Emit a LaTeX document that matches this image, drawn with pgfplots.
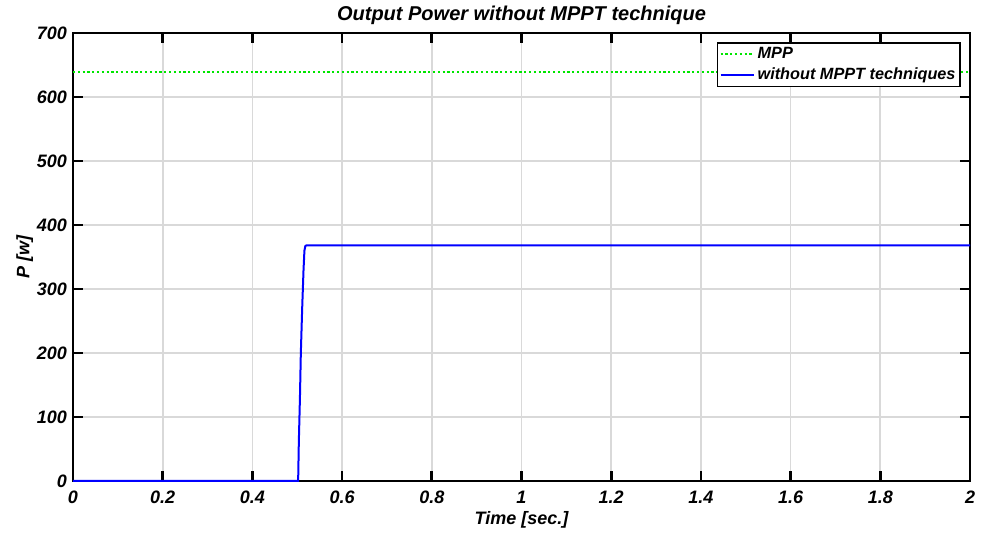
\documentclass[border=0pt]{standalone}
\usepackage{fontspec}
\setmainfont{Liberation Sans}
\usepackage{pgfplots}
\pgfplotsset{compat=1.18}
\begin{document}
\begin{tikzpicture}
\begin{axis}[
  scale only axis,
  width=672.75pt, height=336pt,
  xmin=0, xmax=2, ymin=0, ymax=700,
  xtick={0,0.2,...,2.01},
  ytick={0,100,...,700},
  xticklabels={0,0.2,0.4,0.6,0.8,1,1.2,1.4,1.6,1.8,2},
  /pgf/number format/assume math mode=true,
  ticklabel style={font=\fontsize{13.5}{15}\selectfont\bfseries\itshape},
  label style={font=\fontsize{13.5}{15}\selectfont\bfseries\itshape},
  title style={font=\fontsize{15}{17}\selectfont\bfseries\itshape, yshift=-3pt},
  title={Output Power without MPPT technique},
  xlabel={Time [sec.]},
  ylabel={P [w]},
  xlabel style={yshift=1pt},
  ylabel style={yshift=-4pt},
  tick align=inside,
  major tick length=7.5pt,
  tick style={black, line width=2pt},
  axis line style={black, line width=2pt},
  grid=major,
  major grid style={line width=1.3pt, color=black!15},
  xticklabel style={yshift=-4pt},
  yticklabel style={xshift=-1pt},
  legend style={at={(1,1)}, anchor=north east, xshift=-6.75pt, yshift=-6.75pt,
    draw=black, line width=1.2pt, inner sep=1.5pt,
    font=\fontsize{12.2}{14}\selectfont\bfseries\itshape,
    row sep=1.5pt},
  legend cell align=left,
  legend image code/.code={\draw[#1, line width=1.5pt] (0cm,0cm) -- (0.88cm,0cm);},
  clip=false,
]
\addplot[green!90!black, line width=1.6pt, dotted] coordinates {(0,639) (2,639)};
\addlegendentry{MPP}
\addplot[blue, line width=1.5pt] coordinates {
 (0,0) (0.502,0) (0.5035,60) (0.506,130) (0.508,200) (0.511,270) (0.514,330) (0.516,360) (0.518,367) (0.52,368) (2,368)};
\addlegendentry{without MPPT techniques}
\end{axis}
\path ([shift={(-54.75pt,-42.75pt)}]current axis.south west) rectangle ([shift={(14.25pt,24.75pt)}]current axis.north east);
\end{tikzpicture}
\end{document}
